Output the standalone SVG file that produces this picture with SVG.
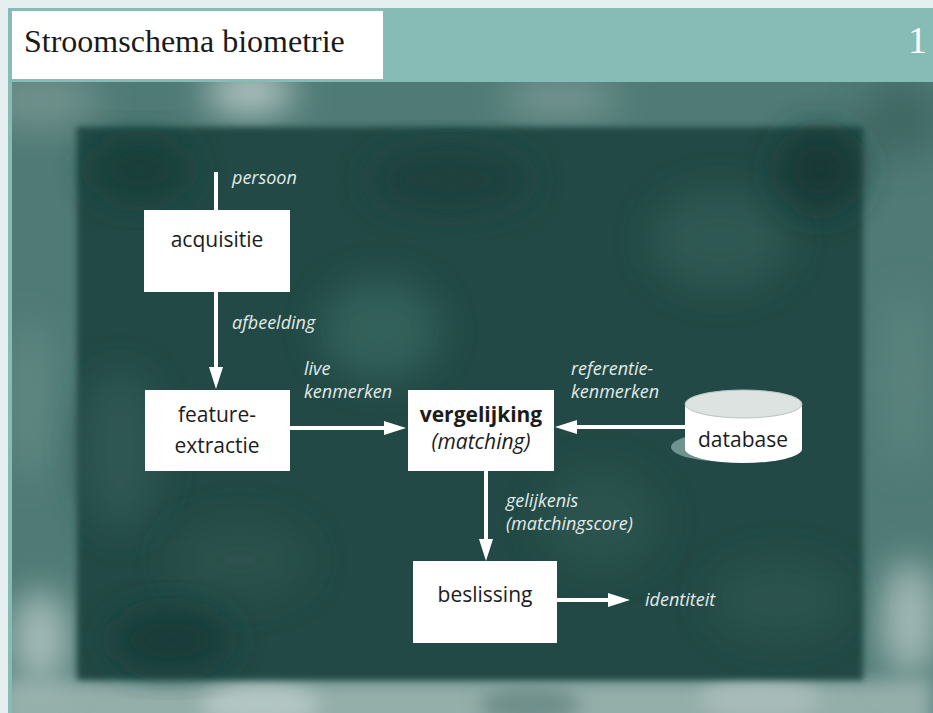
<svg xmlns="http://www.w3.org/2000/svg" width="933" height="713" viewBox="0 0 933 713">
<style>
.box{fill:#ffffff}
.bt{font-family:"Open Sans","DejaVu Sans",sans-serif;font-size:21px;fill:#1c1c1c;text-anchor:middle}
.lbl{font-family:"Open Sans","DejaVu Sans",sans-serif;font-size:18px;font-style:italic;fill:#e2ebe9}
.con{stroke:#ffffff;stroke-width:4;fill:none}
</style>
<defs>
<marker id="ah" viewBox="0 0 22 14" refX="10" refY="7" markerWidth="22" markerHeight="14" markerUnits="userSpaceOnUse" orient="auto">
<path d="M0,0 L22,7 L0,14 Z" fill="#ffffff"/>
</marker>
<filter id="b3" x="-10%" y="-10%" width="120%" height="120%"><feGaussianBlur stdDeviation="3"/></filter>
<filter id="b20" x="-50%" y="-50%" width="200%" height="200%"><feGaussianBlur stdDeviation="18"/></filter>
<filter id="b10" x="-50%" y="-50%" width="200%" height="200%"><feGaussianBlur stdDeviation="9"/></filter>
<clipPath id="ph"><rect x="12" y="82" width="921" height="631"/></clipPath>
</defs>
<rect x="0" y="0" width="933" height="713" fill="#e5eff0"/>
<rect x="8" y="8" width="925" height="705" fill="#87bbb5"/>
<g id="photo" clip-path="url(#ph)">
<rect x="12" y="82" width="921" height="631" fill="#4f7a75"/>
<ellipse cx="250" cy="92" rx="45" ry="22" fill="#b8cac7" filter="url(#b20)"/>
<ellipse cx="560" cy="98" rx="60" ry="18" fill="#7a9a96" filter="url(#b20)"/>
<ellipse cx="40" cy="100" rx="60" ry="30" fill="#6f918c" filter="url(#b20)"/>
<ellipse cx="900" cy="120" rx="40" ry="40" fill="#3f6863" filter="url(#b20)"/>
<rect x="0" y="680" width="933" height="60" fill="#94aeaa" filter="url(#b10)"/>
<ellipse cx="40" cy="640" rx="30" ry="50" fill="#a6bdba" filter="url(#b20)"/>
<ellipse cx="910" cy="620" rx="30" ry="60" fill="#a2b9b6" filter="url(#b20)"/>
<ellipse cx="260" cy="705" rx="60" ry="20" fill="#b3c6c3" filter="url(#b10)"/>
<ellipse cx="530" cy="705" rx="50" ry="20" fill="#6f8f8b" filter="url(#b10)"/>
<ellipse cx="760" cy="700" rx="60" ry="20" fill="#a8bcb9" filter="url(#b10)"/>
<ellipse cx="30" cy="400" rx="25" ry="80" fill="#5f8782" filter="url(#b20)"/>
<ellipse cx="905" cy="380" rx="25" ry="90" fill="#5a837e" filter="url(#b20)"/>
<rect x="77" y="127" width="786" height="553" fill="#224945" filter="url(#b3)"/>
<ellipse cx="120" cy="450" rx="40" ry="80" fill="#2f5752" filter="url(#b20)"/>
<ellipse cx="380" cy="330" rx="60" ry="50" fill="#33605a" filter="url(#b20)"/>
<ellipse cx="720" cy="240" rx="70" ry="50" fill="#2e5853" filter="url(#b20)"/>
<ellipse cx="600" cy="520" rx="60" ry="50" fill="#2b524d" filter="url(#b20)"/>
<ellipse cx="240" cy="560" rx="70" ry="40" fill="#2a514c" filter="url(#b20)"/>
<ellipse cx="780" cy="600" rx="70" ry="40" fill="#2c534e" filter="url(#b20)"/>
<ellipse cx="140" cy="170" rx="50" ry="30" fill="#183d39" filter="url(#b20)"/>
<ellipse cx="450" cy="180" rx="80" ry="30" fill="#1c403c" filter="url(#b20)"/>
<ellipse cx="820" cy="170" rx="40" ry="40" fill="#143834" filter="url(#b20)"/>
<ellipse cx="170" cy="640" rx="60" ry="30" fill="#183b37" filter="url(#b20)"/>
</g>
<g id="header">
<rect x="12" y="11" width="371" height="68" fill="#ffffff"/>
<text x="24" y="52" font-family="'Liberation Serif','Times New Roman',serif" font-size="32" fill="#1a1a1a">Stroomschema biometrie</text>
<text x="927" y="53" font-family="'Liberation Serif','Times New Roman',serif" font-size="38" fill="#ffffff" text-anchor="end">1</text>
</g>
<g id="connectors">
<line class="con" x1="216" y1="172" x2="216" y2="211"/>
<line class="con" x1="216" y1="292" x2="216" y2="377" marker-end="url(#ah)"/>
<line class="con" x1="290" y1="428" x2="394" y2="428" marker-end="url(#ah)"/>
<line class="con" x1="686" y1="427" x2="567" y2="427" marker-end="url(#ah)"/>
<line class="con" x1="486" y1="471" x2="486" y2="549" marker-end="url(#ah)"/>
<line class="con" x1="557" y1="600" x2="618" y2="600" marker-end="url(#ah)"/>
</g>
<g id="labels">
<text class="lbl" x="232" y="184">persoon</text>
<text class="lbl" x="232" y="329">afbeelding</text>
<text class="lbl" x="304" y="375">live</text>
<text class="lbl" x="304" y="398">kenmerken</text>
<text class="lbl" x="571" y="375">referentie-</text>
<text class="lbl" x="571" y="398">kenmerken</text>
<text class="lbl" x="506" y="507">gelijkenis</text>
<text class="lbl" x="506" y="530">(matchingscore)</text>
<text class="lbl" x="645" y="606">identiteit</text>
</g>
<g id="acquisitie">
<rect class="box" x="144" y="210" width="146" height="82"/>
<text class="bt" x="217" y="247">acquisitie</text>
</g>
<g id="feature-extractie">
<rect class="box" x="145" y="390" width="145" height="81"/>
<text class="bt" x="217" y="422">feature-</text>
<text class="bt" x="217" y="453">extractie</text>
</g>
<g id="vergelijking">
<rect class="box" x="408" y="390" width="146" height="81"/>
<text class="bt" x="481" y="422" font-weight="bold" font-size="20">vergelijking</text>
<text class="bt" x="481" y="449" font-style="italic" font-size="20">(matching)</text>
</g>
<g id="database">
<ellipse cx="728" cy="447" rx="57" ry="15" fill="#7da09b" opacity="0.85"/>
<path d="M685,404 L685,449 A58.5,14 0 0 0 802,449 L802,404 Z" fill="#ffffff"/>
<ellipse cx="743.5" cy="404" rx="58.5" ry="14" fill="#dce3e1" stroke="#b9c4c1" stroke-width="1"/>
<text class="bt" x="743" y="447">database</text>
</g>
<g id="beslissing">
<rect class="box" x="413" y="561" width="144" height="82"/>
<text class="bt" x="485" y="602">beslissing</text>
</g>
</svg>
